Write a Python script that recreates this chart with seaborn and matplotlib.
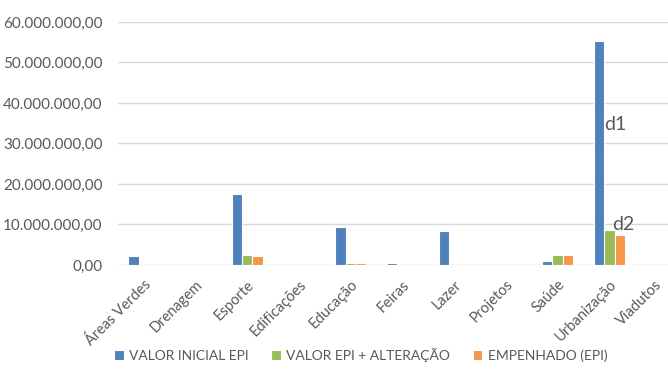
import pandas as pd
import matplotlib
matplotlib.use("Agg")
import matplotlib.pyplot as plt
import matplotlib.transforms as mtransforms
import seaborn as sns
from matplotlib.ticker import FuncFormatter

categorias = ["Áreas Verdes", "Drenagem", "Esporte", "Edificações", "Educação",
              "Feiras", "Lazer", "Projetos", "Saúde", "Urbanização", "Viadutos"]
valor_inicial = [2.2e6, 0, 17.5e6, 0, 9.4e6, 0.5e6, 8.3e6, 0, 0.9e6, 55.2e6, 0]
valor_alteracao = [0, 0, 2.5e6, 0, 0.6e6, 0, 0, 0, 2.5e6, 8.7e6, 0]
empenhado = [0, 0, 2.1e6, 0, 0.4e6, 0, 0, 0, 2.5e6, 7.3e6, 0]
series = ["VALOR INICIAL EPI", "VALOR EPI + ALTERAÇÃO", "EMPENHADO (EPI)"]
cores = ["#4F81BD", "#9BBB59", "#F79646"]

df = pd.DataFrame({
    "categoria": categorias * 3,
    "serie": [series[0]] * 11 + [series[1]] * 11 + [series[2]] * 11,
    "valor": valor_inicial + valor_alteracao + empenhado,
})

sns.set_style("white")
plt.rcParams["font.family"] = ["Lato", "DejaVu Sans"]

fig = plt.figure(figsize=(6.68, 3.70), dpi=100)
ax = fig.add_axes([0.1766, 0.2838, 0.8518, 0.6568])

sns.barplot(data=df, x="categoria", y="valor", hue="serie", palette=cores,
            saturation=1, width=0.6, edgecolor="white", linewidth=0.8, ax=ax,
            legend=True)

ax.set_ylim(0, 60e6)
ax.set_yticks([i * 10e6 for i in range(7)])
ax.yaxis.set_major_formatter(FuncFormatter(
    lambda v, p: f"{v:,.2f}".replace(",", "X").replace(".", ",").replace("X", ".")))
ax.grid(axis="y", color="#D9D9D9", linewidth=1)
ax.set_axisbelow(True)
for s in ax.spines.values():
    s.set_visible(False)
ax.tick_params(axis="both", length=0, colors="#595959")
ax.tick_params(axis="y", labelsize=11, pad=11)
ax.tick_params(axis="x", labelsize=10.5, pad=9)
plt.setp(ax.get_xticklabels(), rotation=45, ha="right", rotation_mode="anchor")
ax.set_xlabel("")
ax.set_ylabel("")

# keep the last label inside the image
last = ax.get_xticklabels()[-1]
last.set_transform(last.get_transform() +
                   mtransforms.ScaledTranslation(-6 / 100, 0, fig.dpi_scale_trans))

ax.text(8.9, 34.6e6, "d1", fontsize=14, color="#595959", va="center")
ax.text(9.05, 10.1e6, "d2", fontsize=14, color="#595959", va="center")

handles, labels = ax.get_legend_handles_labels()
ax.legend_.remove()
fig.legend(handles, labels, loc="center", bbox_to_anchor=(0.54, 0.04), ncol=3,
           frameon=False, fontsize=10, labelcolor="#595959", handlelength=0.7,
           handleheight=0.7, columnspacing=1.6, handletextpad=0.4)

fig.savefig("out.png", dpi=100)
